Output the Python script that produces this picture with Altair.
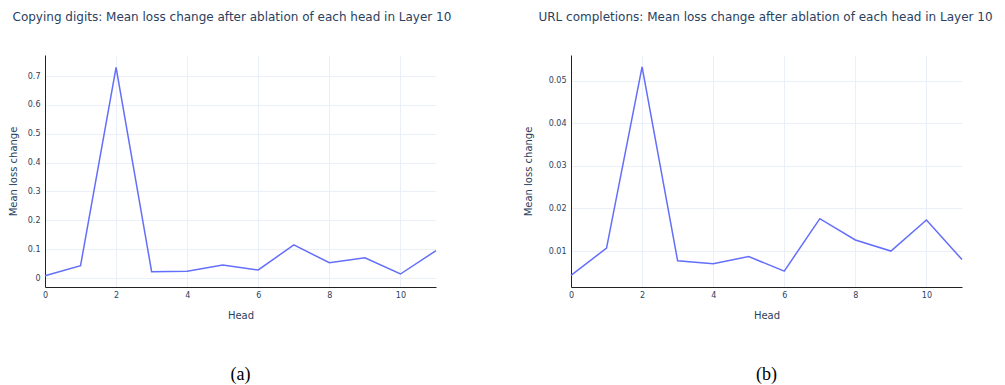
import altair as alt
import pandas as pd

heads = list(range(12))
copy_vals = [0.008, 0.043, 0.730, 0.022, 0.024, 0.045, 0.028, 0.115, 0.053, 0.070, 0.014, 0.095]
url_vals = [0.0043, 0.0107, 0.0532, 0.0077, 0.0070, 0.0087, 0.0053, 0.0176, 0.0126, 0.0100, 0.0173, 0.0080]
titles = [
    "Copying digits: Mean loss change after ablation of each head in Layer 10",
    "URL completions: Mean loss change after ablation of each head in Layer 10",
]
captions = ["(a)", "(b)"]
x_ticks = [0, 2, 4, 6, 8, 10]
copy_ticks = [0, 0.1, 0.2, 0.3, 0.4, 0.5, 0.6, 0.7]
url_ticks = [0.01, 0.02, 0.03, 0.04, 0.05]

W, H = 391, 232
TXT = "#2a3f5f"
FONT = "DejaVu Sans"


def panel(vals, title, caption, ydomain, yticks, yfmt, ytitlex):
    df = pd.DataFrame({"Head": heads, "loss": vals})
    line = alt.Chart(df).mark_line(color="#636efa", strokeWidth=1.5).encode(
        x=alt.X(
            "Head:Q",
            scale=alt.Scale(domain=[0, 11], nice=False, zero=False),
            axis=alt.Axis(values=x_ticks, title="Head", titleY=31,
                          titleBaseline="alphabetic", labelPadding=4),
        ),
        y=alt.Y(
            "loss:Q",
            scale=alt.Scale(domain=ydomain, nice=False, zero=False),
            axis=alt.Axis(values=yticks, format=yfmt, title="Mean loss change",
                          titleX=ytitlex, titleY=H / 2, labelPadding=5),
        ),
    )
    cap = alt.Chart(pd.DataFrame({"c": [caption]})).mark_text(
        font="Liberation Serif", fontSize=18, baseline="alphabetic",
        align="center", color="black",
    ).encode(text="c:N", x=alt.value(W / 2), y=alt.value(H + 93))
    return alt.layer(line, cap).properties(
        width=W,
        height=H,
        title=alt.TitleParams(
            text=title, anchor="start", frame="group", dx=-32.5, offset=22,
            baseline="alphabetic", font=FONT, fontSize=12,
            fontWeight="normal", color=TXT,
        ),
    )


left = panel(copy_vals, titles[0], captions[0], [-0.031, 0.773], copy_ticks, ".1~f", -27)
right = panel(url_vals, titles[1], captions[1], [0.00157, 0.056], url_ticks, ".2~f", -38)

chart = (
    alt.hconcat(left, right, spacing=135, bounds="flush")
    .properties(padding={"left": 0, "top": 3, "right": 0, "bottom": 0})
    .configure_view(stroke=None)
    .configure_axis(
        domain=True, domainColor="#222222", domainWidth=1,
        ticks=False, grid=True, gridColor="#EBF0F8", gridWidth=1,
        labelFont=FONT, labelFontSize=8, labelColor=TXT, labelFlush=False,
        titleFont=FONT, titleFontSize=10, titleFontWeight="normal", titleColor=TXT,
    )
)

chart.save("out.html", embed_options={"renderer": "svg", "actions": False})
